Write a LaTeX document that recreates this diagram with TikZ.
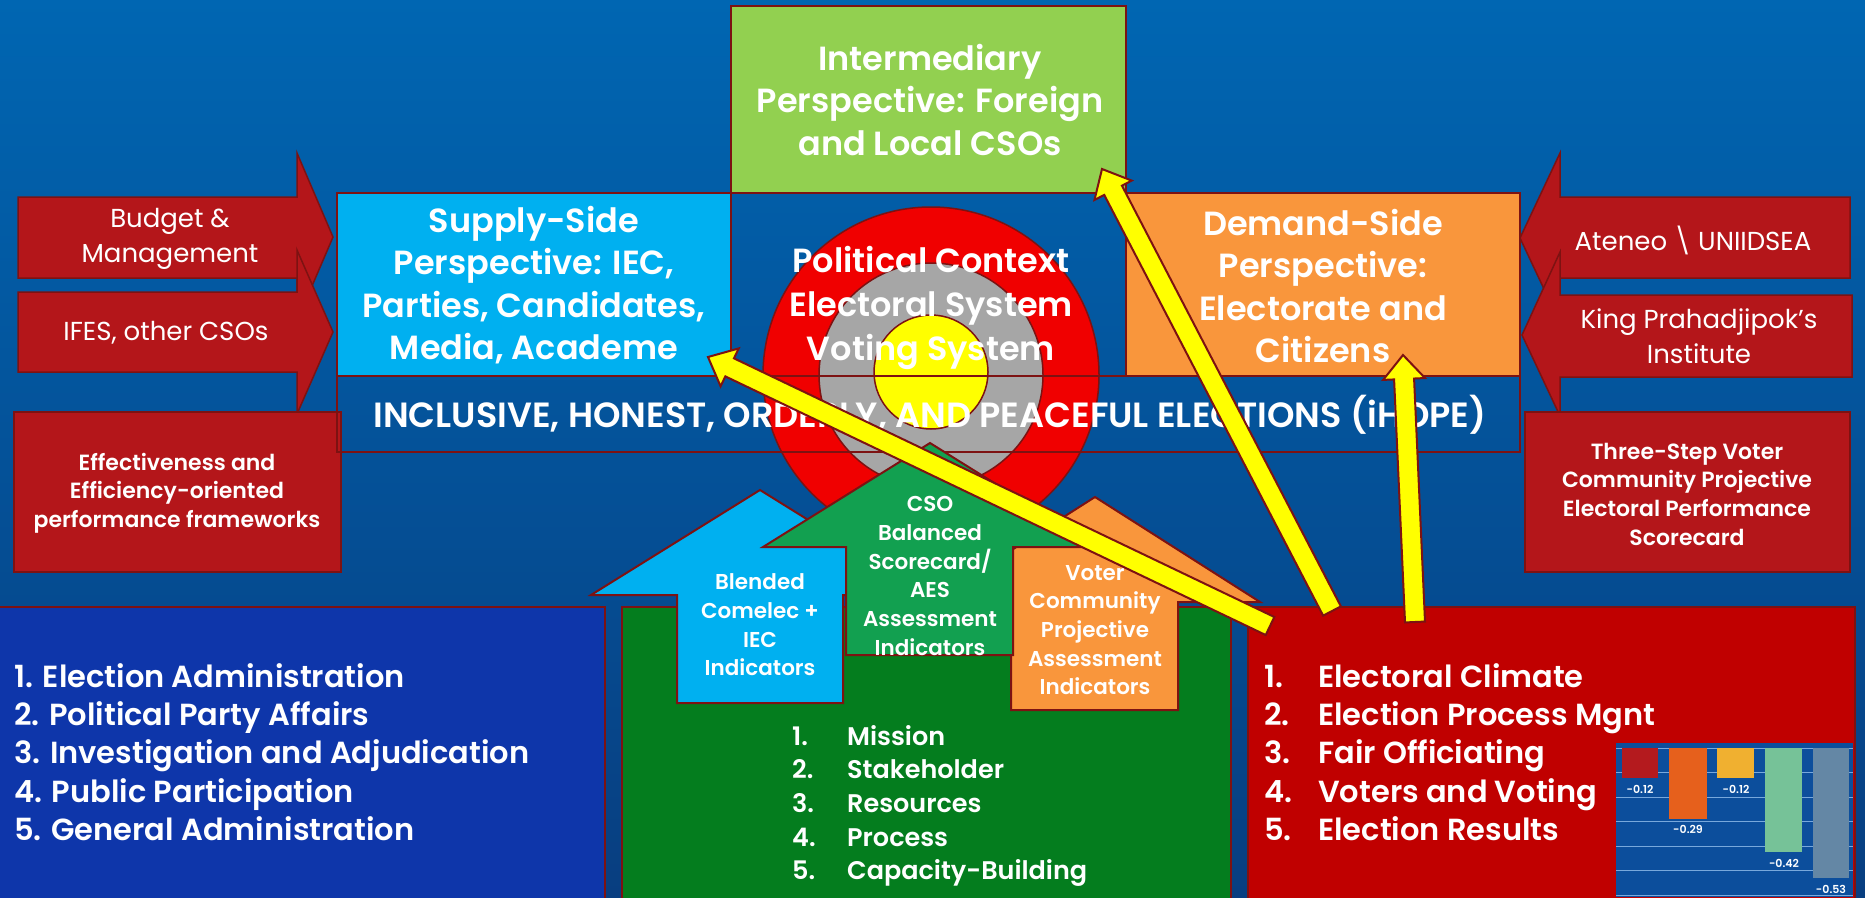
\documentclass[tikz,border=0pt]{standalone}
\usepackage{fontspec}
\setmainfont{Poppins}[BoldFont={* SemiBold}]
\usetikzlibrary{calc}

\definecolor{bgtop}{RGB}{0,102,178}
\definecolor{bgmid}{RGB}{16,86,160}
\definecolor{bgbot}{RGB}{8,62,128}
\definecolor{edge}{RGB}{125,18,18}
\definecolor{arrowred}{RGB}{180,22,26}
\definecolor{boxred}{RGB}{192,0,0}
\definecolor{royal}{RGB}{14,54,170}
\definecolor{house}{RGB}{4,125,30}
\definecolor{leaf}{RGB}{146,208,80}
\definecolor{sky}{RGB}{0,176,240}
\definecolor{amber}{RGB}{249,150,60}
\definecolor{arrowgreen}{RGB}{18,160,80}
\definecolor{target}{RGB}{240,0,0}
\definecolor{ring}{RGB}{166,166,166}
\definecolor{bull}{RGB}{255,255,0}
\definecolor{chartbg}{RGB}{12,78,156}
\definecolor{gridline}{RGB}{120,168,220}
\definecolor{barA}{RGB}{180,26,30}
\definecolor{barB}{RGB}{230,96,28}
\definecolor{barC}{RGB}{240,176,48}
\definecolor{barD}{RGB}{118,194,152}
\definecolor{barE}{RGB}{100,135,165}

\newcommand{\fs}[2]{\fontsize{#1}{#2}\selectfont}

% block arrow from tail coordinate #1 to tip coordinate #2
\newcommand{\drawpointer}[2]{%
  \coordinate (neck) at ($(#2)!24pt!(#1)$);
  \filldraw[pointer] ($(#1)!10pt!90:(#2)$) -- ($(neck)!10pt!90:(#2)$)
    -- ($(neck)!21pt!90:(#2)$) -- (#2) -- ($(neck)!21pt!-90:(#2)$)
    -- ($(neck)!10pt!-90:(#2)$) -- ($(#1)!10pt!-90:(#2)$) -- cycle;}

\begin{document}
\begin{tikzpicture}[x=1pt,y=-1pt,
  panel/.style={draw=edge,line width=2pt},
  sidearrow/.style={fill=arrowred,draw=edge,line width=1.5pt},
  pointer/.style={fill=bull,draw=edge,line width=2pt,line join=miter},
  txt/.style={text=white,inner sep=0pt,align=center},
  head/.style={txt,font=\bfseries\fs{33.5}{42.5}},
  light/.style={txt,font=\fs{26}{35}},
  note/.style={txt,font=\bfseries\fs{22}{28.7}},
  tag/.style={txt,font=\bfseries\fs{21.5}{28.7}},
  listing/.style={text=white,inner sep=0pt,align=left},
  barlabel/.style={text=white,inner sep=0pt,font=\bfseries\fs{11}{13}}]

\useasboundingbox (0,0) rectangle (1865,897);
\shade[top color=bgtop,middle color=bgmid,bottom color=bgbot] (0,0) rectangle (1865,897);

% ---- input arrows on the left
\filldraw[sidearrow] (18,197) -- (297,197) -- (297,153) -- (333,237) -- (297,321) -- (297,278) -- (18,278) -- cycle;
\filldraw[sidearrow] (18,292) -- (297,292) -- (297,250) -- (333,332) -- (297,414) -- (297,372) -- (18,372) -- cycle;
\filldraw[sidearrow] (14,412) rectangle (341,572);
\node[light] (budget) at (170,239) {Budget \&\\Management};
\node[light] (ifes) at (166,333) {IFES, other CSOs};
\node[note] (effect) at (177,493) {Effectiveness and\\Efficiency-oriented\\performance frameworks};

% ---- input arrows on the right
\filldraw[sidearrow] (1850,197) -- (1560,197) -- (1560,153) -- (1520,238) -- (1560,323) -- (1560,278) -- (1850,278) -- cycle;
\filldraw[sidearrow] (1852,295) -- (1560,295) -- (1560,252) -- (1522,335) -- (1560,416) -- (1560,377) -- (1852,377) -- cycle;
\filldraw[sidearrow] (1525,412) rectangle (1850,572);
\node[light] (ateneo) at (1693,240) {Ateneo \textbackslash\ UNIIDSEA};
\node[light] (king) at (1699,336) {King Prahadjipok’s\\Institute};
\node[note] (threestep) at (1687,494) {Three-Step Voter\\Community Projective\\Electoral Performance\\Scorecard};

% ---- perspectives
\filldraw[panel,fill=leaf] (731,6) rectangle (1126,193);
\filldraw[panel,fill=sky] (337,193) rectangle (731,376);
\filldraw[panel,fill=amber] (1126,193) rectangle (1520,376);

% ---- target
\filldraw[draw=edge,line width=1.5pt,fill=target] (931,375) circle[radius=168pt];
\filldraw[draw=edge,line width=1.5pt,fill=ring] (931,375) circle[radius=112pt];
\filldraw[draw=edge,line width=1.5pt,fill=bull] (931,372) circle[radius=57pt];
\draw[panel] (337,193) rectangle (1520,452);
\draw[panel] (337,376) -- (1520,376);

\node[head] (inter) at (930,100) {Intermediary\\Perspective: Foreign\\and Local CSOs};
\node[head] (supply) at (534,285) {Supply-Side\\Perspective: IEC,\\Parties, Candidates,\\Media, Academe};
\node[head] (demand) at (1323,286) {Demand-Side\\Perspective:\\Electorate and\\Citizens};
\node[head,font=\bfseries\fs{33.5}{44}] (context) at (931,308) {Political Context\\Electoral System\\Voting System};
\node[txt,font=\bfseries\fs{35}{40}] (ihope) at (930,415) {INCLUSIVE, HONEST, ORDERLY, AND PEACEFUL ELECTIONS (iHOPE)};

% ---- bottom panels
\filldraw[panel,fill=royal] (-2,607) rectangle (605,899);
\filldraw[panel,fill=house] (622,607) rectangle (1231,899);
\filldraw[panel,fill=boxred] (1248,607) rectangle (1855,899);

\node[listing,font=\bfseries\fs{30.5}{38.3},anchor=west] (offices) at (14,752)
 {1. Election Administration\\2. Political Party Affairs\\3. Investigation and Adjudication\\4. Public Participation\\5. General Administration};
\node[listing,font=\bfseries\fs{25.5}{33.7},anchor=west] (scorecard) at (792,806)
 {\makebox[55pt][l]{1.}Mission\\\makebox[55pt][l]{2.}Stakeholder\\\makebox[55pt][l]{3.}Resources\\\makebox[55pt][l]{4.}Process\\\makebox[55pt][l]{5.}Capacity-Building};
\node[listing,font=\bfseries\fs{30.5}{38.3},anchor=west] (climate) at (1264,752)
 {\makebox[54pt][l]{1.}Electoral Climate\\\makebox[54pt][l]{2.}Election Process Mgnt\\\makebox[54pt][l]{3.}Fair Officiating\\\makebox[54pt][l]{4.}Voters and Voting\\\makebox[54pt][l]{5.}Election Results};

% ---- indicator arrows of the house
\filldraw[draw=edge,line width=2pt,fill=sky] (677,703) -- (677,595) -- (591,595) -- (760,490) -- (929,595) -- (843,595) -- (843,703) -- cycle;
\filldraw[draw=edge,line width=2pt,fill=amber] (1011,710) -- (1011,602) -- (930,602) -- (1095,497) -- (1260,602) -- (1178,602) -- (1178,710) -- cycle;
\filldraw[draw=edge,line width=2pt,fill=arrowgreen] (846,655) -- (846,547) -- (763,547) -- (930,443) -- (1097,547) -- (1013,547) -- (1013,655) -- cycle;
\node[tag] (blended) at (760,625) {Blended\\Comelec +\\IEC\\Indicators};
\node[tag] (cso) at (930,576) {CSO\\Balanced\\Scorecard/\\AES\\Assessment\\Indicators};
\node[tag] (voter) at (1095,630) {Voter\\Community\\Projective\\Assessment\\Indicators};

% ---- bar chart
\fill[chartbg] (1616,743) rectangle (1853,897);
\foreach \k in {0,...,6}
  \draw[gridline,line width=1pt] (1616,{748+24.5*\k}) -- (1853,{748+24.5*\k});
\fill[barA] (1622,748) rectangle (1658,778);
\fill[barB] (1669,748) rectangle (1707,819);
\fill[barC] (1717,748) rectangle (1754,778);
\fill[barD] (1765,748) rectangle (1802,852);
\fill[barE] (1813,748) rectangle (1849,878);
\node[barlabel] (v1) at (1640,789) {-0.12};
\node[barlabel] (v2) at (1688,829) {-0.29};
\node[barlabel] (v3) at (1736,789) {-0.12};
\node[barlabel] (v4) at (1784,863) {-0.42};
\node[barlabel] (v5) at (1831,889) {-0.53};

% ---- feedback pointers
\coordinate (tailA) at (1270,626);
\coordinate (tipA) at (708,357);
\coordinate (tailB) at (1332,611);
\coordinate (tipB) at (1102,169);
\coordinate (tailC) at (1415,622);
\coordinate (tipC) at (1403,355);
\drawpointer{tailA}{tipA}
\drawpointer{tailB}{tipB}
\drawpointer{tailC}{tipC}
\end{tikzpicture}
\end{document}
